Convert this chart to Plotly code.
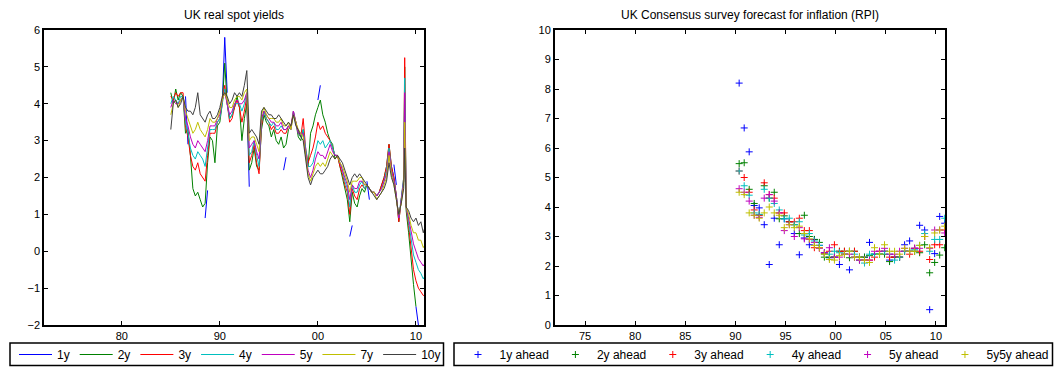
import plotly.graph_objects as go

W, H = 1055, 367
FONT = "Liberation Sans, Arial, sans-serif"

# ---------------- Left chart: UK real spot yields ----------------
yield_dates = [
    1985.0, 1985.25, 1985.5, 1985.75, 1986.0, 1986.25, 1986.5, 1986.75,
    1987.0, 1987.25, 1987.5, 1987.75, 1988.0, 1988.25, 1988.5, 1988.75,
    1989.0, 1989.25, 1989.5, 1989.75, 1990.0, 1990.25, 1990.5, 1990.75,
    1991.0, 1991.25, 1991.5, 1991.75, 1992.0, 1992.25, 1992.5, 1992.75,
    1993.0, 1993.25, 1993.5, 1993.75, 1994.0, 1994.25, 1994.5, 1994.75,
    1995.0, 1995.25, 1995.5, 1995.75, 1996.0, 1996.25, 1996.5, 1996.75,
    1997.0, 1997.25, 1997.5, 1997.75, 1998.0, 1998.25, 1998.5, 1998.75,
    1999.0, 1999.25, 1999.5, 1999.75, 2000.0, 2000.25, 2000.5, 2000.75,
    2001.0, 2001.25, 2001.5, 2001.75, 2002.0, 2002.25, 2002.5, 2002.75,
    2003.0, 2003.25, 2003.5, 2003.75, 2004.0, 2004.25, 2004.5, 2004.75,
    2005.0, 2005.25, 2005.5, 2005.75, 2006.0, 2006.25, 2006.5, 2006.75,
    2007.0, 2007.25, 2007.5, 2007.75, 2008.0, 2008.25, 2008.5, 2008.75, 2008.85,
    2009.0, 2009.25, 2009.5, 2009.75, 2010.0, 2010.25, 2010.5, 2010.75, 2010.85,
]
N = None
yld_1y = [
    N, N, N, N, N, N, 4.2, 2.9,
    N, N, N, N, N, N, 0.9, 1.65,
    N, N, N, N, N, 4.0, 5.8, 4.3,
    N, N, N, N, N, N, N, 4.2,
    1.75, N, N, N, N, N, N, N,
    N, N, N, N, N, N, 2.2, 2.55,
    N, N, N, N, N, N, N, N,
    N, N, N, N, 4.1, 4.5, N, N,
    N, N, N, N, N, N, N, N,
    N, 0.4, 0.7, N, N, N, N, N,
    1.9, 1.4, N, N, N, N, N, N,
    N, N, N, 2.35, 1.8, N, N, N, N,
    N, N, N, N, -1.5, -2.0, N, N, N,
]
yld_2y = [
    4.3, 4.0, 4.4, 4.1, 4.3, 4.2, 3.2, 3.3,
    2.6, 1.7, 1.5, 1.6, 1.4, 1.2, 1.3, 2.4,
    3.1, 3.0, 2.4, 3.4, 3.5, 4.0, 5.1, 4.0,
    3.6, 3.7, 3.9, 4.2, 3.9, 3.0, 3.6, 4.0,
    2.2, 2.4, 2.8, 2.3, 2.2, 3.3, 3.7, 3.5,
    3.4, 3.1, 3.3, 3.0, 2.9, 3.1, 2.8, 2.9,
    3.3, 3.4, 3.7, 3.5, 3.1, 3.0, 3.3, 2.6,
    2.3, 3.2, 3.4, 3.7, 3.9, 4.1, 3.7, 3.5,
    3.2, 3.0, 2.9, 2.5, 2.6, 2.3, 2.0, 1.7,
    1.4, 0.8, 1.6, 1.3, 1.2, 1.5, 1.7, 1.6,
    1.8, 1.7, 1.6, 1.6, 1.5, 1.6, 1.8, 2.0,
    2.3, 2.9, 2.3, 2.0, 1.5, 0.8, 1.4, 1.9, 5.0,
    1.1, 0.5, -0.3, -0.9, -1.5, N, N, N, N,
]
yld_3y = [
    4.2, 4.1, 4.3, 4.2, 4.3, 4.3, 3.4, 3.1,
    2.6, 2.3, 2.2, 2.4, 2.1, 2.0, 1.9, 2.6,
    3.2, 3.2, 3.2, 3.5, 3.6, 4.1, 4.5, 4.0,
    3.5, 3.6, 3.9, 4.1, 3.9, 3.5, 3.8, 4.2,
    2.4, 2.6, 2.9, 2.4, 2.1, 3.4, 3.8, 3.6,
    3.5, 3.3, 3.4, 3.2, 3.2, 3.3, 3.2, 3.2,
    3.4, 3.4, 3.8, 3.5, 3.2, 3.1, 3.6, 2.8,
    2.4, 2.6, 2.8, 3.1, 3.5, 3.3, 3.4, 3.2,
    3.1, 3.0, 2.8, 2.6, 2.6, 2.3, 2.1, 1.8,
    1.6, 1.0, 1.7, 1.5, 1.4, 1.7, 1.8, 1.7,
    1.8, 1.7, 1.6, 1.6, 1.5, 1.6, 1.8, 2.0,
    2.3, 2.9, 2.3, 2.0, 1.5, 0.8, 1.4, 2.0, 5.25,
    1.2, 0.7, 0.1, -0.5, -0.8, -1.0, -1.1, -1.2, -1.2,
]
yld_4y = [
    4.0, 4.2, 4.1, 4.0, 4.2, 4.2, 3.5, 3.2,
    2.8, 2.6, 2.5, 2.7, 2.6, 2.5, 2.3, 2.8,
    3.3, 3.3, 3.3, 3.5, 3.6, 4.0, 4.4, 4.0,
    3.6, 3.7, 4.0, 4.0, 4.0, 3.8, 4.0, 4.3,
    2.6, 2.7, 3.0, 2.6, 2.3, 3.5, 3.8, 3.6,
    3.5, 3.4, 3.5, 3.3, 3.3, 3.4, 3.3, 3.3,
    3.4, 3.3, 3.8, 3.5, 3.2, 3.1, 3.3, 2.8,
    2.3, 2.3, 2.4, 2.7, 3.0, 2.9, 3.0, 2.8,
    2.9, 3.0, 2.8, 2.6, 2.6, 2.4, 2.2, 1.9,
    1.7, 1.2, 1.8, 1.6, 1.6, 1.8, 1.9, 1.7,
    1.8, 1.7, 1.6, 1.6, 1.5, 1.6, 1.7, 1.9,
    2.2, 2.8, 2.2, 1.9, 1.5, 0.9, 1.4, 2.0, 4.7,
    1.2, 0.8, 0.3, -0.1, -0.3, -0.5, -0.6, -0.75, -0.7,
]
yld_5y = [
    3.9, 4.1, 4.0, 4.0, 4.1, 4.2, 3.6, 3.4,
    3.1, 2.9, 2.8, 3.0, 2.9, 2.8, 2.7, 3.0,
    3.4, 3.4, 3.4, 3.6, 3.7, 4.1, 4.3, 4.0,
    3.7, 3.8, 4.0, 4.1, 4.0, 4.0, 4.1, 4.3,
    2.8, 2.9, 3.0, 2.7, 2.5, 3.6, 3.8, 3.7,
    3.6, 3.5, 3.5, 3.4, 3.4, 3.5, 3.3, 3.3,
    3.4, 3.3, 3.8, 3.5, 3.2, 3.2, 3.2, 2.7,
    2.2, 2.0, 2.2, 2.5, 2.7, 2.6, 2.6, 2.5,
    2.7, 2.9, 2.7, 2.6, 2.6, 2.4, 2.2, 2.0,
    1.8, 1.4, 1.8, 1.7, 1.7, 1.9, 1.9, 1.8,
    1.8, 1.7, 1.6, 1.6, 1.5, 1.6, 1.7, 1.9,
    2.1, 2.7, 2.2, 1.9, 1.5, 0.9, 1.4, 1.9, 4.3,
    1.2, 0.9, 0.5, 0.2, 0.0, -0.2, -0.3, -0.4, -0.35,
]
yld_7y = [
    3.7, 4.0, 4.1, 3.9, 4.1, 4.2, 3.8, 3.6,
    3.4, 3.2, 3.3, 3.5, 3.3, 3.2, 3.1, 3.3,
    3.6, 3.5, 3.5, 3.6, 3.8, 4.1, 4.3, 4.1,
    3.9, 3.9, 4.1, 4.2, 4.2, 4.1, 4.3, 4.4,
    3.0, 3.1, 3.1, 2.9, 2.7, 3.7, 3.9, 3.7,
    3.6, 3.6, 3.6, 3.5, 3.5, 3.6, 3.4, 3.4,
    3.5, 3.3, 3.7, 3.5, 3.3, 3.2, 3.1, 2.6,
    2.1, 1.9, 2.1, 2.3, 2.4, 2.3, 2.4, 2.3,
    2.5, 2.7, 2.6, 2.5, 2.6, 2.4, 2.3, 2.1,
    1.9, 1.6, 1.9, 1.9, 1.9, 2.0, 2.0, 1.8,
    1.8, 1.7, 1.6, 1.6, 1.4, 1.5, 1.6, 1.8,
    2.0, 2.6, 2.1, 1.8, 1.4, 1.0, 1.3, 1.8, 3.5,
    1.2, 1.0, 0.7, 0.5, 0.5, 0.3, 0.3, 0.1, 0.15,
]
yld_10y = [
    3.3, 4.0, 4.1, 3.9, 4.0, 4.2, 3.9, 3.8,
    3.8, 3.7, 3.9, 4.3, 3.7, 3.6, 3.5, 3.7,
    3.8, 3.6, 3.6, 3.7, 3.9, 4.2, 4.3, 4.2,
    4.0, 4.1, 4.3, 4.2, 4.3, 4.2, 4.5, 4.9,
    3.2, 3.3, 3.2, 3.1, 2.9, 3.8, 3.9, 3.8,
    3.7, 3.7, 3.6, 3.6, 3.7, 3.6, 3.5, 3.4,
    3.5, 3.4, 3.7, 3.4, 3.3, 3.1, 3.0, 2.5,
    2.0, 1.8, 2.0, 2.1, 2.2, 2.1, 2.1, 2.2,
    2.3, 2.5, 2.6, 2.5, 2.6, 2.5, 2.4, 2.2,
    2.0, 1.8, 2.0, 2.1, 2.0, 2.1, 2.0, 1.9,
    1.8, 1.7, 1.6, 1.5, 1.4, 1.5, 1.6, 1.7,
    1.9, 2.4, 2.0, 1.8, 1.4, 1.0, 1.3, 1.7, 2.8,
    1.2, 1.1, 0.9, 0.8, 0.9, 0.7, 0.8, 0.5, 0.6,
]
yield_names = ["1y", "2y", "3y", "4y", "5y", "7y", "10y"]
yield_series = [yld_1y, yld_2y, yld_3y, yld_4y, yld_5y, yld_7y, yld_10y]
yield_colors = ["#0000FF", "#008000", "#FF0000", "#00BFBF", "#BF00BF", "#BFBF00", "#404040"]
yield_xticks = [1980, 1990, 2000, 2010]
yield_xticktext = ["80", "90", "00", "10"]

# ---------------- Right chart: Consensus inflation forecasts ----------------
survey_dates = [
    1990.37, 1990.87, 1991.37, 1991.87, 1992.37, 1992.87, 1993.37, 1993.87,
    1994.37, 1994.87, 1995.37, 1995.87, 1996.37, 1996.87, 1997.37, 1997.87,
    1998.37, 1998.87, 1999.37, 1999.87, 2000.37, 2000.87, 2001.37, 2001.87,
    2002.37, 2002.87, 2003.37, 2003.87, 2004.37, 2004.87, 2005.37, 2005.87,
    2006.37, 2006.87, 2007.37, 2007.87, 2008.37, 2008.87, 2009.37, 2009.87,
    2010.37, 2010.87,
]
fc_1y = [8.2, 6.68, 5.87, 4.05, 3.97, 3.4, 2.05, 3.62, 2.72, 3.6, 3.5, 3.1, 2.38, 2.95,
         2.72, 2.9, 2.7, 2.45, 2.28, 2.3, 2.05, 2.4, 1.87, 2.3, 2.3, 2.3, 2.8, 2.4,
         2.4, 2.5, 2.2, 2.3, 2.3, 2.72, 2.85, 2.6, 3.38, 3.22, 0.52, 2.42, 3.68, 3.45]
fc_2y = [5.47, 5.5, 4.6, 4.12, 3.73, 4.72, 4.3, 4.5, 3.6, 3.7, 3.5, 3.4, 3.1, 3.72,
         3.0, 2.9, 2.8, 2.3, 2.3, 2.3, 2.5, 2.5, 2.28, 2.5, 2.3, 2.3, 2.35, 2.4,
         2.4, 2.4, 2.15, 2.3, 2.3, 2.5, 2.5, 2.5, 2.45, 2.72, 1.77, 2.12, 2.37, 2.62]
fc_3y = [5.22, 5.0, 4.5, 3.9, 3.72, 4.82, 4.42, 4.3, 3.8, 3.8, 3.5, 3.5, 3.62, 3.2,
         3.2, 2.62, 2.62, 2.42, 2.5, 2.72, 2.5, 2.5, 2.5, 2.5, 2.2, 2.2, 2.2, 2.3,
         2.5, 2.5, 2.3, 2.3, 2.3, 2.5, 2.4, 2.6, 2.5, 3.0, 2.22, 2.72, 2.72, 3.22]
fc_4y = [5.22, 4.72, 4.4, 3.8, 3.75, 4.6, 4.3, 4.12, 3.9, 3.6, 3.62, 3.4, 3.5, 3.05,
         3.1, 2.85, 2.7, 2.4, 2.4, 2.5, 2.45, 2.4, 2.5, 2.4, 2.2, 2.1, 2.4, 2.4,
         2.4, 2.5, 2.4, 2.2, 2.3, 2.5, 2.5, 2.55, 2.7, 3.1, 2.5, 2.9, 2.9, 3.62]
fc_5y = [4.62, 4.5, 4.2, 3.72, 3.65, 4.3, 4.42, 4.2, 3.8, 3.2, 3.4, 3.0, 3.3, 2.92,
         2.9, 2.8, 2.6, 2.45, 2.62, 2.3, 2.3, 2.4, 2.4, 2.3, 2.2, 2.2, 2.2, 2.5,
         2.5, 2.6, 2.4, 2.4, 2.5, 2.6, 2.5, 2.6, 2.6, 3.0, 2.6, 3.22, 3.22, 3.12]
fc_5y5y = [4.5, 4.42, 3.8, 3.72, 3.62, 3.8, 4.0, 3.8, 3.72, 3.3, 3.4, 3.3, 3.35, 3.1,
           2.92, 2.7, 2.62, 2.4, 2.22, 2.2, 2.35, 2.4, 2.5, 2.3, 2.3, 2.2, 2.12, 2.62,
           2.4, 2.72, 2.5, 2.5, 2.4, 2.6, 2.5, 2.5, 2.7, 3.0, 2.62, 3.12, 3.22, 3.35]
fc_names = ["1y ahead", "2y ahead", "3y ahead", "4y ahead", "5y ahead", "5y5y ahead"]
fc_series = [fc_1y, fc_2y, fc_3y, fc_4y, fc_5y, fc_5y5y]
fc_colors = ["#0000FF", "#008000", "#FF0000", "#00BFBF", "#BF00BF", "#BFBF00"]
fc_xticks = [1975, 1980, 1985, 1990, 1995, 2000, 2005, 2010]
fc_xticktext = ["75", "80", "85", "90", "95", "00", "05", "10"]


def px_x(p):
    return p / W


def px_y(p):
    return 1 - p / H


fig = go.Figure()
for name, vals, col in zip(yield_names, yield_series, yield_colors):
    fig.add_trace(go.Scatter(
        x=yield_dates, y=vals, mode="lines", name=name,
        line=dict(color=col, width=1), xaxis="x", yaxis="y", legend="legend",
        connectgaps=False,
    ))
for name, vals, col in zip(fc_names, fc_series, fc_colors):
    fig.add_trace(go.Scatter(
        x=survey_dates, y=vals, mode="markers", name=name,
        marker=dict(symbol="cross-thin", size=5, color=col, line=dict(color=col, width=1)),
        xaxis="x2", yaxis="y2", legend="legend2",
    ))

axis_common = dict(
    showline=True, linecolor="black", linewidth=2, mirror="ticks",
    ticks="inside", ticklen=4, tickwidth=1, tickcolor="black",
    showgrid=False, zeroline=False,
    tickfont=dict(family=FONT, size=11, color="black"),
)

L1, R1 = 44.3, 424.3
L2, R2 = 555, 945
TOP, BOT = 30, 325

fig.update_layout(
    width=W, height=H,
    margin=dict(l=0, r=0, t=0, b=0, autoexpand=False),
    paper_bgcolor="white", plot_bgcolor="white",
    font=dict(family=FONT, size=11, color="black"),
    xaxis=dict(domain=[px_x(L1), px_x(R1)], range=[1972.1, 2010.85],
               tickvals=yield_xticks, ticktext=yield_xticktext, anchor="y", **axis_common),
    yaxis=dict(domain=[px_y(BOT), px_y(TOP)], range=[-2, 6], dtick=1, anchor="x", **axis_common),
    xaxis2=dict(domain=[px_x(L2), px_x(R2)], range=[1972.0, 2010.9],
                tickvals=fc_xticks, ticktext=fc_xticktext, anchor="y2", **axis_common),
    yaxis2=dict(domain=[px_y(BOT), px_y(TOP)], range=[0, 10], dtick=1, anchor="x2", **axis_common),
    legend=dict(orientation="h", x=px_x(14), xanchor="left", y=px_y(354.5), yanchor="middle",
                font=dict(family=FONT, size=12, color="black"), itemwidth=33,
                bgcolor="rgba(0,0,0,0)", borderwidth=0, tracegroupgap=0),
    legend2=dict(orientation="h", x=px_x(456.5), xanchor="left", y=px_y(354.5), yanchor="middle",
                 font=dict(family=FONT, size=12, color="black"), itemwidth=33,
                 bgcolor="rgba(0,0,0,0)", borderwidth=0, tracegroupgap=0),
    showlegend=True,
    annotations=[
        dict(text="UK real spot yields", x=px_x((L1 + R1) / 2), y=px_y(15),
             xref="paper", yref="paper", showarrow=False, xanchor="center", yanchor="middle",
             font=dict(family=FONT, size=12, color="black")),
        dict(text="UK Consensus survey forecast for inflation (RPI)", x=px_x((L2 + R2) / 2),
             y=px_y(15), xref="paper", yref="paper", showarrow=False, xanchor="center",
             yanchor="middle", font=dict(family=FONT, size=12, color="black")),
    ],
    shapes=[
        dict(type="rect", xref="paper", yref="paper", x0=px_x(10), x1=px_x(443.5),
             y0=px_y(365.5), y1=px_y(343), line=dict(color="black", width=1.5)),
        dict(type="rect", xref="paper", yref="paper", x0=px_x(454), x1=px_x(1052.5),
             y0=px_y(365.5), y1=px_y(343), line=dict(color="black", width=1.5)),
    ],
)

fig.write_html("out.html", config={"displayModeBar": False},
               post_script="document.body.style.margin='0';")
